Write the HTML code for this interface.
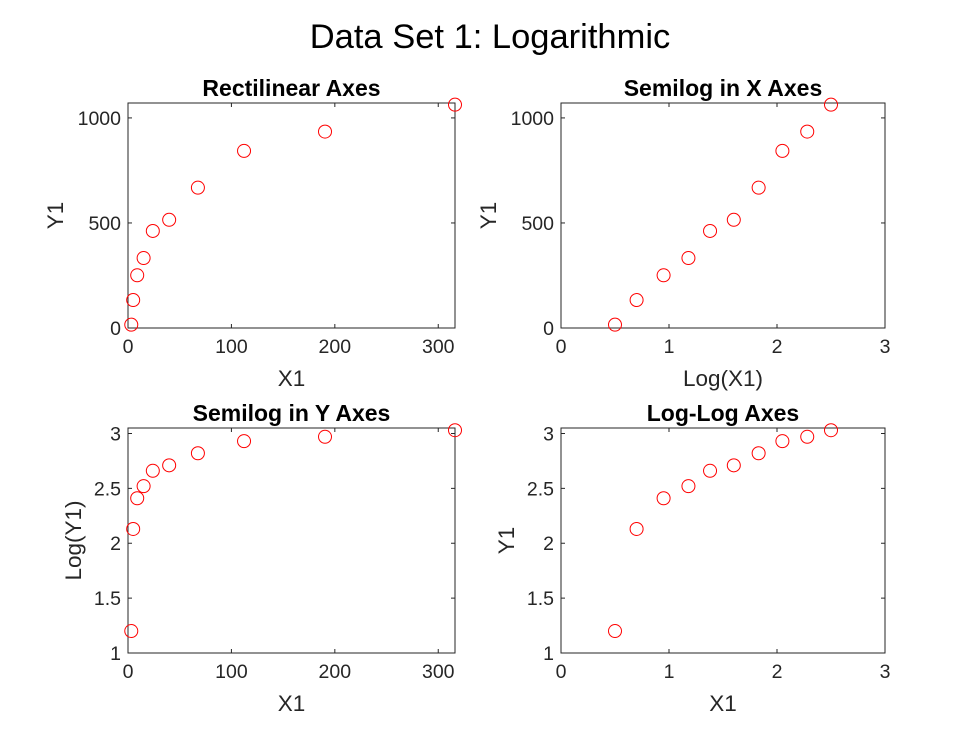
<!DOCTYPE html>
<html><head><meta charset="utf-8"><style>
body{margin:0;background:#fff;}
svg{display:block;font-family:"Liberation Sans",Arial,sans-serif;}
</style></head><body>
<svg id="fig" width="980" height="735" viewBox="0 0 980 735">
<rect width="980" height="735" fill="#fff"/>
<text x="490" y="48" text-anchor="middle" font-size="34.5" fill="#000">Data Set 1: Logarithmic</text>
</svg>
<script>
const xValues=[3.16,5.0,8.9,15.1,24.0,39.8,67.6,112.2,190.5,316.2];
const yValues=[15.8,133,251,333,462,515,668,843,935,1063];
const logX=[0.5,0.7,0.95,1.18,1.38,1.6,1.83,2.05,2.28,2.5];
const logY=[1.2,2.13,2.41,2.52,2.66,2.71,2.82,2.93,2.97,3.03];
const linXTicks=[0,100,200,300];
const logXTicks=[0,1,2,3];
const linYTicks=[0,500,1000];
const logYTicks=[1,1.5,2,2.5,3];

const NS='http://www.w3.org/2000/svg';
const svg=document.getElementById('fig');
function mk(tag,attrs,parent){const e=document.createElementNS(NS,tag);for(const k in attrs)e.setAttribute(k,attrs[k]);(parent||svg).appendChild(e);return e;}

const panels=[
 {name:'rectilinear',title:'Rectilinear Axes',x0:128,x1:455,y0:103,y1:328,xd:[0,316.2],yd:[0,1071],xs:xValues,ys:yValues,xt:linXTicks,yt:linYTicks,xl:'X1',yl:'Y1',yo:65},
 {name:'semilog-x',title:'Semilog in X Axes',x0:561,x1:885,y0:103,y1:328,xd:[0,3],yd:[0,1071],xs:logX,ys:yValues,xt:logXTicks,yt:linYTicks,xl:'Log(X1)',yl:'Y1',yo:65},
 {name:'semilog-y',title:'Semilog in Y Axes',x0:128,x1:455,y0:428,y1:653,xd:[0,316.2],yd:[1,3.05],xs:xValues,ys:logY,xt:linXTicks,yt:logYTicks,xl:'X1',yl:'Log(Y1)',yo:47},
 {name:'log-log',title:'Log-Log Axes',x0:561,x1:885,y0:428,y1:653,xd:[0,3],yd:[1,3.05],xs:logX,ys:logY,xt:logXTicks,yt:logYTicks,xl:'X1',yl:'Y1',yo:47}
];

panels.forEach(p=>{
 const g=mk('g',{});
 
 
 const sx=v=>p.x0+(v-p.xd[0])/(p.xd[1]-p.xd[0])*(p.x1-p.x0);
 const sy=v=>p.y1-(v-p.yd[0])/(p.yd[1]-p.yd[0])*(p.y1-p.y0);
 const box=mk('rect',{x:p.x0,y:p.y0,width:p.x1-p.x0,height:p.y1-p.y0,fill:'#fff',stroke:'#262626','stroke-width':1},g);
 
 
 p.xt.forEach(t=>{
  const x=sx(t);
  mk('line',{x1:x,x2:x,y1:p.y1,y2:p.y1-4,stroke:'#262626'},g);
  mk('line',{x1:x,x2:x,y1:p.y0,y2:p.y0+4,stroke:'#262626'},g);
  const tx=mk('text',{x:x,y:p.y1+25,'text-anchor':'middle','font-size':19.5,fill:'#262626'},g);
  tx.textContent=t;
  
  
 });
 p.yt.forEach(t=>{
  const y=sy(t);
  mk('line',{x1:p.x0,x2:p.x0+4,y1:y,y2:y,stroke:'#262626'},g);
  mk('line',{x1:p.x1,x2:p.x1-4,y1:y,y2:y,stroke:'#262626'},g);
  const tx=mk('text',{x:p.x0-7,y:y+7,'text-anchor':'end','font-size':19.5,fill:'#262626'},g);
  tx.textContent=t;
  
  
 });
 const ti=mk('text',{x:(p.x0+p.x1)/2,y:p.y0-7,'text-anchor':'middle','font-size':23,'font-weight':'bold',fill:'#000'},g);
 ti.textContent=p.title;
 
 
 const xl=mk('text',{x:(p.x0+p.x1)/2,y:p.y1+58,'text-anchor':'middle','font-size':22.5,fill:'#262626'},g);
 xl.textContent=p.xl;
 
 
 const yc=(p.y0+p.y1)/2, yx=p.x0-p.yo;
 const yl=mk('text',{x:yx,y:yc,'text-anchor':'middle','font-size':22.5,fill:'#262626',transform:'rotate(-90 '+yx+' '+yc+')'},g);
 yl.textContent=p.yl;
 
 
 p.xs.forEach((v,i)=>{
  const c=mk('circle',{cx:sx(v),cy:sy(p.ys[i]),r:6.5,fill:'none',stroke:'#ff0000','stroke-width':1},g);
  
  
 });
});
</script>
</body></html>
